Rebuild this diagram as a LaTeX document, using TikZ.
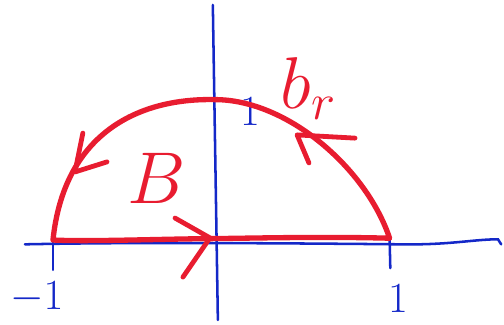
\RequirePackage{fix-cm}
\documentclass[tikz,border=0pt]{standalone}
\usetikzlibrary{positioning}
\definecolor{penred}{RGB}{232,28,48}
\definecolor{penblue}{RGB}{20,40,200}
\tikzset{
  axis/.style={penblue, line width=2pt, line cap=round},
  curve/.style={penred, line width=4.2pt, line cap=round, line join=round},
  chevron/.style={penred, line width=3.8pt, line cap=round, line join=round},
  axlabel/.style={penblue, inner sep=0pt, font=\fontsize{34}{34}\selectfont},
  redlabel/.style={penred, font=\fontsize{58}{58}\selectfont}
}
\begin{document}
\begin{tikzpicture}
        % --- Parameters ---
        \pgfmathsetmacro{\xl}{-4.5}
        \pgfmathsetmacro{\xr}{4.85}
        \pgfmathsetmacro{\hgt}{3.9}
        \useasboundingbox (-5.972,-2.333) rectangle (8.028,6.667);
        % --- Axes ---
        \draw[axis] (-5.28,-0.12) .. controls (-2,-0.05) and (3,-0.1) .. (5.2,-0.12)
            .. controls (6.5,-0.14) and (7.2,0.02) .. (7.86,0.02) -- (7.95,-0.12);
        \draw[axis] (-0.06,6.53) -- (0.08,-2.22);
        % --- Ticks ---
        \draw[axis] (\xl,0.1) -- (\xl,-0.83);
        \draw[axis] (\xr,0.05) -- (\xr+0.02,-0.78);
        \node[axlabel] (mone) at (-4.95,-1.6) {$-1$};
        \node[axlabel] (one) at (5.08,-1.62) {$1$};
        \node[axlabel] (yone) at (0.97,3.56) {$1$};
        % --- Boundary ---
        \draw[curve] (\xl,0) .. controls (-4.2,2.9) and (-2.2,3.95) .. (0,\hgt)
            .. controls (2,3.9) and (4.2,2) .. (\xr,0.05)
            .. controls (3,0.1) and (1,0.05) .. (0,0.04)
            .. controls (-1.5,0.03) and (-3.5,-0.05) .. (\xl,0);
        % --- Orientation arrows ---
        \draw[chevron] (-1.11,0.61) -- (-0.14,0.06) -- (-0.89,-1.03);
        \draw[chevron] (-3.0,2.17) -- (-3.89,1.89) -- (-3.67,2.97);
        \draw[chevron] (3.89,2.83) -- (2.28,2.92) -- (2.61,2.14);
        % --- Labels ---
        \node[redlabel] (region) at (-1.61,1.72) {$B$};
        \node[redlabel] (bound) at (2.6,4.2) {$b_{r}$};
\end{tikzpicture}
\end{document}
